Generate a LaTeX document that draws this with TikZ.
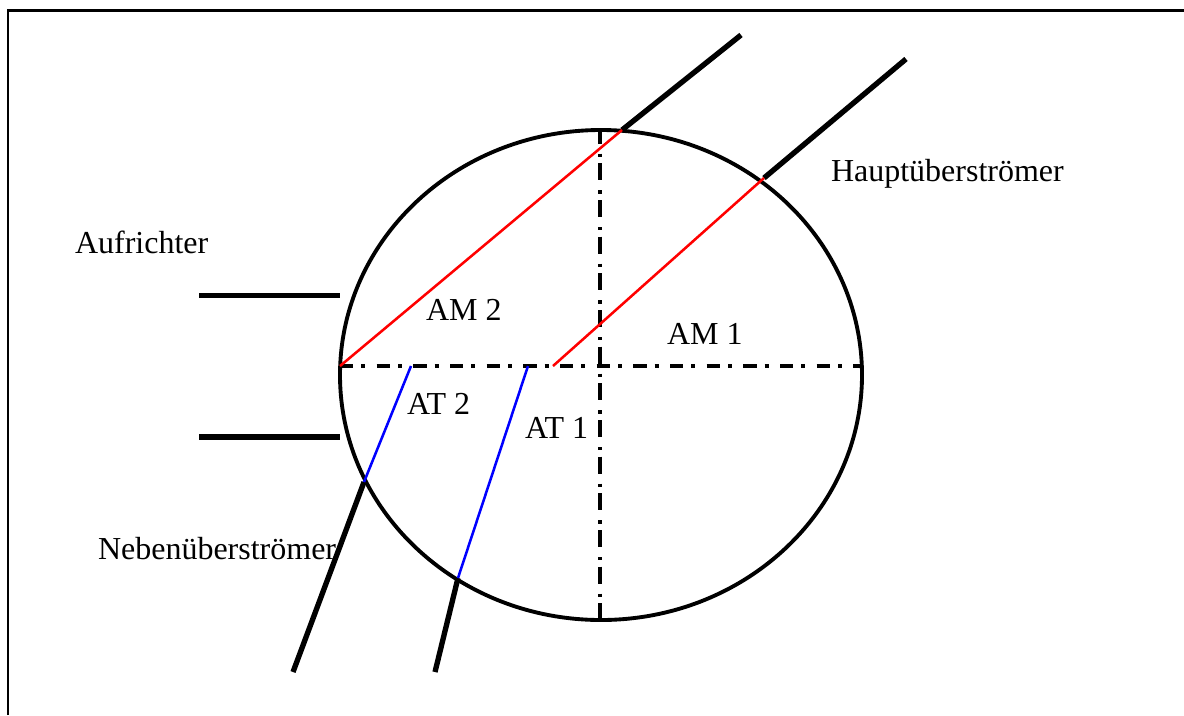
\documentclass[tikz,border=0pt]{standalone}
\usepackage{fontspec}
\setmainfont{Liberation Serif}
\usetikzlibrary{shapes.geometric}
\tikzset{
  x=0.75pt,y=-0.75pt,
  frameline/.style={line width=1.9pt,black},
  rim/.style={draw=black,line width=2.9pt,ellipse,inner sep=0pt,outer sep=0pt,minimum width=391.5pt,minimum height=367.5pt},
  port/.style={line width=4pt,black},
  axish/.style={line width=2.6pt,black,dash pattern=on 10pt off 6pt on 3pt off 8.5pt},
  axisv/.style={line width=2.6pt,black,dash pattern=on 12.75pt off 7.5pt on 2.6pt off 4.65pt,dash phase=2.5pt},
  redline/.style={line width=1.9pt,red},
  blueline/.style={line width=1.9pt,blue},
  lbl/.style={anchor=base west,inner sep=0pt,outer sep=0pt,font=\fontsize{24pt}{28pt}\selectfont,text=black}
}
\begin{document}
\begin{tikzpicture}
\useasboundingbox (0,0) rectangle (1184,715);
\coordinate (fb) at (8,715);
\coordinate (ft) at (8,10.5);
\coordinate (fr) at (1184,10.5);
\draw[frameline] (fb) -- (ft) -- (fr);
\node[rim] (circ) at (601,375) {};
\coordinate (L) at (340,366);
\coordinate (R) at (862,366);
\coordinate (T) at (600,130);
\coordinate (B) at (600,620);
\draw[axish] (L) -- (R);
\draw[axisv] (T) -- (B);
\coordinate (a1) at (199,295.5);
\coordinate (a2) at (340,295.5);
\coordinate (a3) at (199,437);
\coordinate (a4) at (340,437);
\draw[port] (a1) -- (a2);
\draw[port] (a3) -- (a4);
\coordinate (m1) at (622,130);
\coordinate (m1o) at (741,35);
\coordinate (m2) at (764,178);
\coordinate (m2o) at (906,59);
\coordinate (m2i) at (553,366);
\draw[port] (m1) -- (m1o);
\draw[port] (m2) -- (m2o);
\draw[redline] (L) -- (m1);
\draw[redline] (m2i) -- (m2);
\coordinate (t1) at (364,482);
\coordinate (t1o) at (293,672);
\coordinate (t1i) at (411,366);
\coordinate (t2) at (458,578);
\coordinate (t2o) at (435,672);
\coordinate (t2i) at (528,366);
\draw[port] (t1) -- (t1o);
\draw[port] (t2) -- (t2o);
\draw[blueline] (t1i) -- (t1);
\draw[blueline] (t2i) -- (t2);
\node[lbl] (n1) at (75,253) {Aufrichter};
\node[lbl] (n2) at (831,181) {Hauptüberströmer};
\node[lbl] (n3) at (98,559) {Nebenüberströmer};
\node[lbl] (n4) at (426,320) {AM 2};
\node[lbl] (n5) at (667,344) {AM 1};
\node[lbl] (n6) at (407,414) {AT 2};
\node[lbl] (n7) at (525,438) {AT 1};
\end{tikzpicture}
\end{document}
